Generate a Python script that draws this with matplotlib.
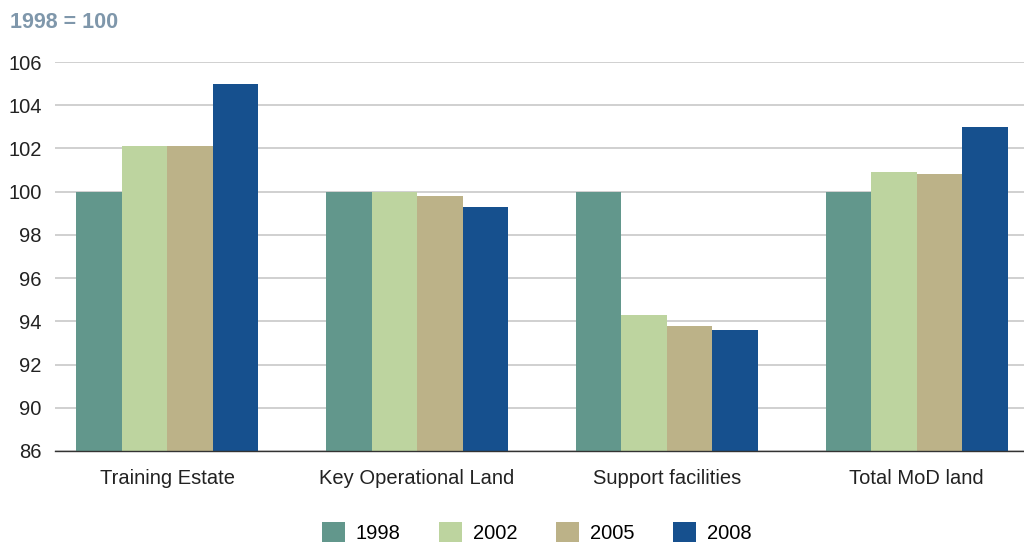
import numpy as np
import matplotlib.pyplot as plt
from matplotlib.patches import Patch

categories = ['Training Estate', 'Key Operational Land', 'Support facilities', 'Total MoD land']
years = ['1998', '2002', '2005', '2008']
v1998 = [100.0, 100.0, 100.0, 100.0]
v2002 = [102.1, 100.0, 94.3, 100.9]
v2005 = [102.1, 99.8, 93.8, 100.8]
v2008 = [105.0, 99.3, 93.6, 103.0]
yticks = [88, 90, 92, 94, 96, 98, 100, 102, 104, 106]
ytick_labels = ['86', '90', '92', '94', '96', '98', '100', '102', '104', '106']

colors = ['#62978c', '#bdd49f', '#bcb288', '#16508e']
series = [v1998, v2002, v2005, v2008]

plt.rcParams['font.family'] = ['Liberation Sans', 'DejaVu Sans']

fig = plt.figure(figsize=(10.24, 5.44), dpi=100)
ax = fig.add_axes([0.0537, 0.171, 0.9463, 0.715])

base = 88
x = np.arange(len(categories))
w = 0.182
for i, (vals, col) in enumerate(zip(series, colors)):
    offs = (i - 1.5) * w
    ax.bar(x + offs, np.array(vals) - base, w, bottom=base, color=col, zorder=3)

ax.set_ylim(88, 106)
ax.set_xlim(-0.45, 3.43)
ax.set_yticks(yticks)
ax.set_yticklabels(ytick_labels)
ax.set_xticks(x)
ax.set_xticklabels(categories)
ax.tick_params(axis='both', length=0, labelsize=14.5, colors='#222222')
ax.tick_params(axis='y', pad=9.5)
ax.tick_params(axis='x', pad=13)

ax.yaxis.grid(True, color='#c8c8c8', linewidth=1.2, zorder=0)
for s in ['top', 'right', 'left']:
    ax.spines[s].set_visible(False)
ax.spines['bottom'].set_color('#333333')
ax.spines['bottom'].set_linewidth(1.0)
ax.spines['bottom'].set_zorder(4)

fig.text(0.0098, 0.958, '1998 = 100', fontsize=15.5, fontweight='bold',
         color='#7f97ab', va='center', ha='left')

handles = [Patch(facecolor=c, edgecolor='none') for c in colors]
fig.legend(handles, years, loc='center', bbox_to_anchor=(0.524, 0.021), ncol=4,
           frameon=False, fontsize=14.5, handlelength=1.15, handleheight=1.1,
           columnspacing=1.95, handletextpad=0.5, borderaxespad=0, borderpad=0)

fig.savefig('out.png', dpi=100)
